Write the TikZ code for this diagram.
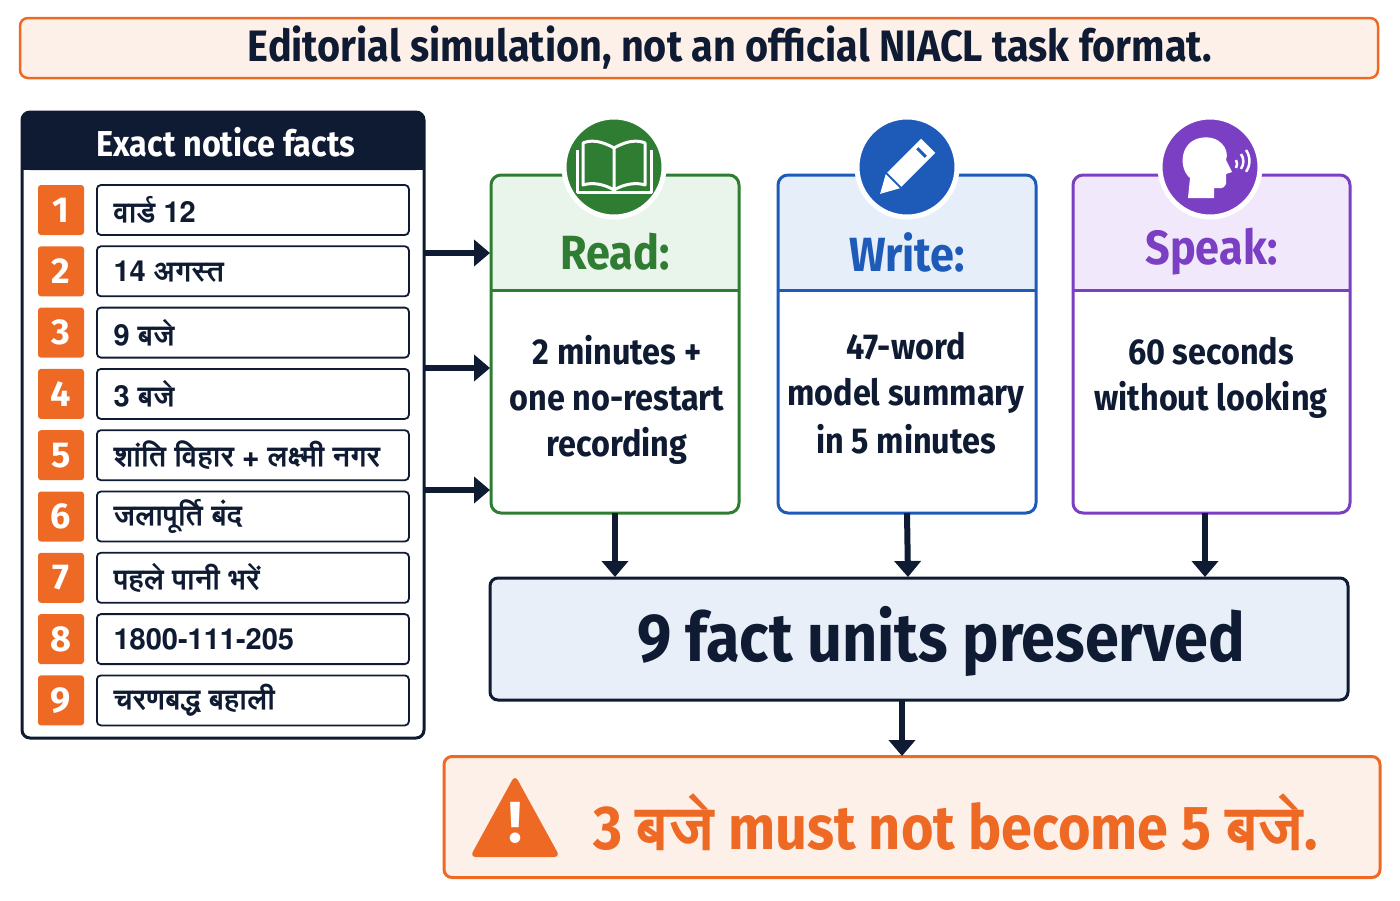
\documentclass[tikz,border=0pt]{standalone}
\usepackage{fontspec}
\setmainfont{Fira Sans}
\newfontfamily\deva[Script=Devanagari]{FreeSans}
\newfontfamily\cond[FakeStretch=0.9]{Fira Sans}
\usetikzlibrary{arrows.meta}
\definecolor{navy}{HTML}{0F1B33}
\definecolor{org}{HTML}{EE6A24}
\definecolor{orgbg}{HTML}{FDF0E8}
\definecolor{grn}{HTML}{2E7D32}
\definecolor{grnbg}{HTML}{E9F5EA}
\definecolor{blu}{HTML}{1E5BB8}
\definecolor{blubg}{HTML}{E6EEFA}
\definecolor{pur}{HTML}{7B3FC4}
\definecolor{purbg}{HTML}{F1E8FB}
\definecolor{bigbg}{HTML}{E8EFF9}
\newcommand{\fs}[1]{\fontsize{#1}{#1}\selectfont}
\begin{document}
\begin{tikzpicture}[x=1pt,y=-1pt,
  arr/.style={-{Triangle[length=16pt,width=26pt]},line width=6pt,color=navy},
  numbox/.style={draw=none,fill=org,rounded corners=3pt,minimum width=46pt,minimum height=50pt,text=white,font=\fs{36}\bfseries},
  factbox/.style={draw=navy,line width=1.8pt,rounded corners=4pt,minimum width=312pt,minimum height=50pt,anchor=west},
  facttxt/.style={anchor=west,font=\fs{29}\deva\bfseries,text=navy},
  ic/.style={circle,minimum size=100pt,line width=5pt,draw=white}]
\path[use as bounding box] (0,0) rectangle (1400,900);
\fill[white] (0,0) rectangle (1400,900);
% banner
\node[draw=org,fill=orgbg,line width=2.5pt,rounded corners=8pt,minimum width=1358pt,minimum height=60pt] (banner) at (699,48) {};
\node[font=\fs{44}\cond\bfseries,text=navy] (bannert) at (730,48) {Editorial simulation, not an official NIACL task format.};
% left panel
\draw[navy,line width=3pt,rounded corners=8pt] (22,112) rectangle (424,738);
\fill[navy,rounded corners=8pt] (22,112) rectangle (424,170);
\fill[navy] (22,150) rectangle (424,170);
\node[text=white,font=\fs{36}\cond\bfseries] (hdr) at (226,142) {Exact notice facts};
\foreach \i/\t [count=\k] in {1/{वार्ड 12},2/{14 अगस्त},3/{9 बजे},4/{3 बजे},5/{शांति विहार + लक्ष्मी नगर},6/{जलापूर्ति बंद},7/{पहले पानी भरें},8/{1800-111-205},9/{चरणबद्ध बहाली}}{
  \pgfmathsetmacro\yy{210+(\k-1)*61.3}
  \node[numbox] (n\i) at (61,\yy) {\i};
  \node[factbox] (f\i) at (96,\yy) {};
  \node[facttxt] (t\i) at (110,\yy) {\t};
}
% stage boxes
\foreach \nm/\xa/\xb/\c/\bg/\lab in {read/491/739/grn/grnbg/Read:,write/778/1036/blu/blubg/Write:,speak/1073/1350/pur/purbg/Speak:}{
  \fill[\bg,rounded corners=10pt] (\xa,175) rectangle (\xb,290);
  \fill[\bg] (\xa,260) rectangle (\xb,290);
  \draw[\c,line width=3pt] (\xa,290) -- (\xb,290);
  \draw[\c,line width=3pt,rounded corners=10pt] (\xa,175) rectangle (\xb,513);
  \node[text=\c,font=\fs{48}\cond\bfseries] (\nm lab) at ({(\xa+\xb)/2},252) {\lab};
  \coordinate (\nm) at ({(\xa+\xb)/2},513);
}
\node[font=\fs{36}\cond\bfseries,align=center,text=navy] (rt) at (617,400) {2 minutes +\\[10pt]one no-restart\\[10pt]recording};
\node[font=\fs{36}\cond\bfseries,align=center,text=navy] (wt) at (906,393) {47-word\\[10pt]model summary\\[10pt]in 5 minutes};
\node[font=\fs{36}\cond\bfseries,align=center,text=navy] (st) at (1211,378) {60 seconds\\[10pt]without looking};
% icons
\node[ic,fill=grn] (i1) at (614,167) {};
\node[ic,fill=blu] (i2) at (907,167) {};
\node[ic,fill=pur] (i3) at (1210,167) {};
% book
\begin{scope}[white,line width=3pt,line join=round]
\draw (614,148) .. controls (600,140) and (590,140) .. (583,143) -- (583,185) .. controls (592,182) and (604,184) .. (614,190) .. controls (624,184) and (636,182) .. (645,185) -- (645,143) .. controls (638,140) and (628,140) .. (614,148) -- (614,190);
\draw (577,150) -- (577,192) -- (651,192) -- (651,150);
\end{scope}
% pencil
\begin{scope}[shift={(907,167)},rotate=-45]
\fill[white] (-10,-30) rectangle (10,18);
\fill[blu] (-6,-22) rectangle (6,-19);
\fill[white] (-10,20) -- (10,20) -- (0,38) -- cycle;
\end{scope}
% head
\begin{scope}[white]
\fill (1188,198) -- (1190,178) .. controls (1178,168) and (1180,142) .. (1200,138) .. controls (1220,134) and (1230,150) .. (1226,160) -- (1232,172) -- (1226,174) -- (1226,184) .. controls (1224,190) and (1218,188) .. (1214,188) -- (1214,198) -- cycle;
\draw[line width=2.5pt] (1236,160) arc (-30:30:8) (1241,154) arc (-35:35:13) (1246,150) arc (-35:35:19);
\end{scope}
% big box
\node[draw=navy,fill=bigbg,line width=3pt,rounded corners=8pt,minimum width=858pt,minimum height=122pt] (big) at (919,639) {};
\node[font=\fs{68}\cond\bfseries,text=navy] (bigt) at (941,641) {9 fact units preserved};
\node[draw=org,fill=orgbg,line width=3pt,rounded corners=8pt,minimum width=936pt,minimum height=121pt] (warn) at (912,817) {};
\node[font=\fs{62}\cond\bfseries,text=org,anchor=west] (wt2) at (590,822) {3 {\deva\bfseries बजे} must not become 5 {\deva\bfseries बजे}.};
\fill[org,rounded corners=6pt] (515,775) -- (560,857) -- (470,857) -- cycle;
\node[text=white,font=\fs{58}\bfseries] (ex) at (515,823) {!};
% arrows
\foreach \y in {253,368,490}{ \coordinate (L\y) at (424,\y); \coordinate (R\y) at (490,\y); \draw[arr] (L\y) -- (R\y); }
\coordinate (b1) at (615,577); \coordinate (b2) at (908,577); \coordinate (b3) at (1205,577);
\draw[arr] (read) -- (b1);
\draw[arr] (write) -- (b2);
\draw[arr] (1205,513) -- (b3);
\draw[arr] (902,700) -- (902,756);
\end{tikzpicture}
\end{document}
